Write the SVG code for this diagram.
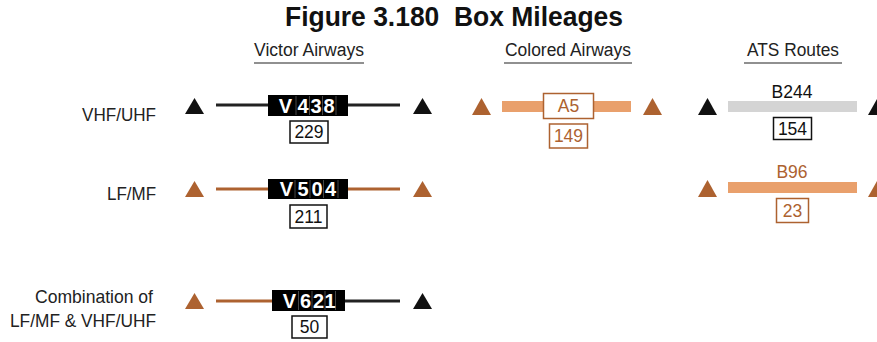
<svg xmlns="http://www.w3.org/2000/svg" width="877" height="342" viewBox="0 0 877 342">
<style>
text{font-family:"Liberation Sans",Arial,sans-serif}
.title{font-size:27px;font-weight:bold;fill:#111;text-anchor:middle;white-space:pre}
.hdr{font-size:18px;fill:#222;text-anchor:middle}
.ul{stroke:#222;stroke-width:1.2}
.lbl{font-size:18.5px;fill:#222;text-anchor:end}
.tb{fill:#111}
.tr{fill:#AD6230}
.vbox{fill:#000}
.vt{font-size:20px;font-weight:bold;fill:#fff;text-anchor:middle}
.div{stroke:#666;stroke-width:0.7}
.mb{fill:#fff;stroke:#111;stroke-width:1.5}
.mbr{fill:#fff;stroke:#AD6230;stroke-width:1.5}
.mt{font-size:17.5px;fill:#111;text-anchor:middle}
.mtr{font-size:17.5px;fill:#AD6230;text-anchor:middle}
.lb{stroke:#222;stroke-width:3}
.lr{stroke:#AD6230;stroke-width:3}
</style>
<rect width="877" height="342" fill="#fff"/>
<g id="title"><text class="title" x="454" y="26" xml:space="preserve" textLength="338" lengthAdjust="spacingAndGlyphs">Figure 3.180  Box Mileages</text></g>
<g id="headers">
<text class="hdr" x="309" y="56" textLength="110" lengthAdjust="spacingAndGlyphs">Victor Airways</text><line class="ul" x1="254" y1="63" x2="364" y2="63"/>
<text class="hdr" x="568" y="56" textLength="126" lengthAdjust="spacingAndGlyphs">Colored Airways</text><line class="ul" x1="504" y1="63" x2="632" y2="63"/>
<text class="hdr" x="793" y="56" textLength="92" lengthAdjust="spacingAndGlyphs">ATS Routes</text><line class="ul" x1="744" y1="63" x2="842" y2="63"/>
</g>
<g id="row-labels">
<text class="lbl" x="156" y="121" textLength="74" lengthAdjust="spacingAndGlyphs">VHF/UHF</text>
<text class="lbl" x="156" y="200" textLength="49" lengthAdjust="spacingAndGlyphs">LF/MF</text>
<text class="lbl" x="153" y="303" textLength="118" lengthAdjust="spacingAndGlyphs">Combination of</text>
<text class="lbl" x="156" y="327" textLength="146" lengthAdjust="spacingAndGlyphs">LF/MF &amp; VHF/UHF</text>
</g>
<g id="connectors">
<line class="lb" x1="216" y1="105" x2="400" y2="105"/>
<line class="lr" x1="216" y1="189" x2="400" y2="189"/>
<line class="lr" x1="216" y1="301" x2="300" y2="301"/>
<line class="lb" x1="300" y1="301" x2="400" y2="301"/>
<rect x="502" y="101" width="129" height="11" fill="#E9A06C"/>
<rect x="728" y="101" width="129" height="11" fill="#D4D4D4"/>
<rect x="728" y="182" width="129" height="11" fill="#E9A06C"/>
</g>
<g id="triangles">
<polygon class="tb" points="185,114 194.5,98 204,114"/>
<polygon class="tb" points="413,114 422.5,98 432,114"/>
<polygon class="tr" points="185,197 194.5,181 204,197"/>
<polygon class="tr" points="413,197 422.5,181 432,197"/>
<polygon class="tr" points="185,309 194.5,293 204,309"/>
<polygon class="tb" points="413,309 422.5,293 432,309"/>
<polygon class="tr" points="472,115 481.5,98 491,115"/>
<polygon class="tr" points="643,115 652.5,98 662,115"/>
<polygon class="tb" points="698,115 707.5,98 717,115"/>
<polygon class="tb" points="868,115 877.5,98 887,115"/>
<polygon class="tr" points="698,197 707.5,180 717,197"/>
<polygon class="tr" points="868,197 877.5,180 887,197"/>
</g>
<g id="v438">
<rect class="vbox" x="268" y="95" width="80" height="21"/>
<line class="div" x1="296" y1="96" x2="296" y2="115"/><line class="div" x1="309.5" y1="96" x2="309.5" y2="115"/><line class="div" x1="322.5" y1="96" x2="322.5" y2="115"/><line class="div" x1="336" y1="96" x2="336" y2="115"/>
<text class="vt" y="112.5"><tspan x="285.5">V</tspan><tspan x="303">4</tspan><tspan x="316">3</tspan><tspan x="329">8</tspan></text>
<rect class="mb" x="290" y="121" width="38" height="22"/>
<text class="mt" x="309" y="138">229</text>
</g>
<g id="v504">
<rect class="vbox" x="268" y="179" width="80" height="20"/>
<line class="div" x1="295" y1="180" x2="295" y2="198"/><line class="div" x1="310" y1="180" x2="310" y2="198"/><line class="div" x1="323.5" y1="180" x2="323.5" y2="198"/><line class="div" x1="338" y1="180" x2="338" y2="198"/>
<text class="vt" y="196"><tspan x="286.5">V</tspan><tspan x="303">5</tspan><tspan x="317">0</tspan><tspan x="330.5">4</tspan></text>
<rect class="mb" x="290" y="205" width="37" height="23"/>
<text class="mt" x="308.5" y="223">211</text>
</g>
<g id="v621">
<rect class="vbox" x="272" y="290" width="73" height="21"/>
<line class="div" x1="298.5" y1="291" x2="298.5" y2="310"/><line class="div" x1="312" y1="291" x2="312" y2="310"/><line class="div" x1="325" y1="291" x2="325" y2="310"/><line class="div" x1="335.5" y1="291" x2="335.5" y2="310"/>
<text class="vt" y="307.5"><tspan x="289.5">V</tspan><tspan x="305.5">6</tspan><tspan x="318.5">2</tspan><tspan x="330">1</tspan></text>
<rect class="mb" x="292" y="316" width="35" height="22"/>
<text class="mt" x="309.5" y="333">50</text>
</g>
<g id="a5">
<rect class="mbr" x="543.5" y="93.5" width="50" height="25"/>
<text class="mtr" x="568.5" y="112">A5</text>
<rect class="mbr" x="549.5" y="124" width="38" height="24"/>
<text class="mtr" x="568.5" y="142">149</text>
</g>
<g id="b244">
<text class="mt" x="792" y="98">B244</text>
<rect class="mb" x="773.5" y="117.5" width="38" height="22"/>
<text class="mt" x="792.5" y="135">154</text>
</g>
<g id="b96">
<text class="mtr" x="792" y="178">B96</text>
<rect class="mbr" x="776.5" y="198.5" width="32" height="24"/>
<text class="mtr" x="792.5" y="217">23</text>
</g>
</svg>
